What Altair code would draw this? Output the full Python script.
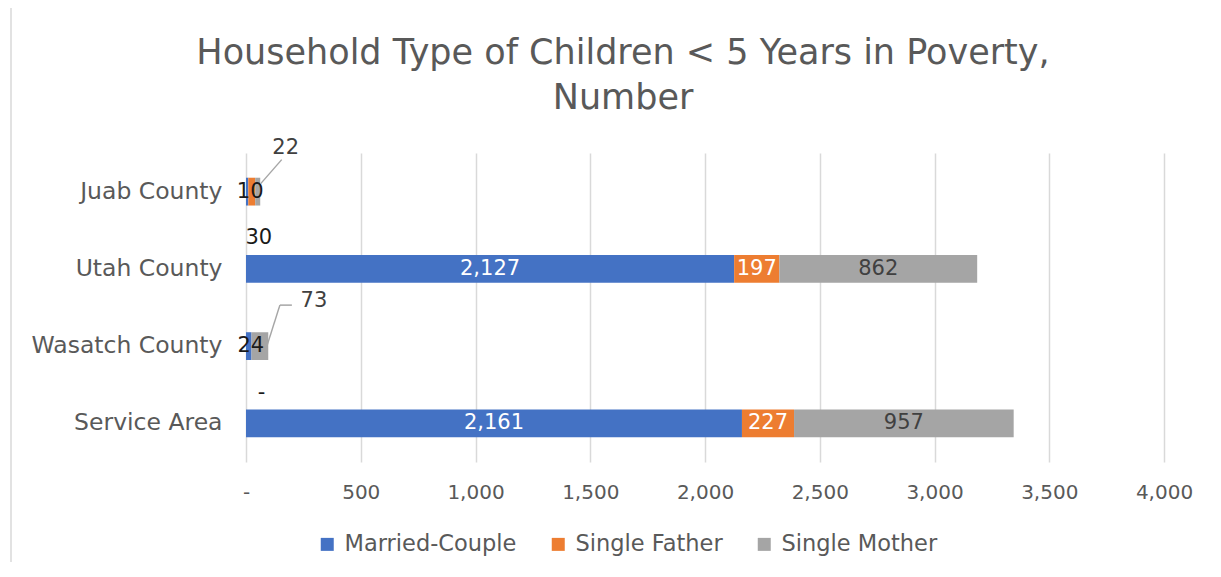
import altair as alt
import pandas as pd

counties = ["Juab County", "Utah County", "Wasatch County", "Service Area"]
types = ["Married-Couple", "Single Father", "Single Mother"]
married = [10, 2127, 24, 2161]
father = [30, 197, 0, 227]
mother = [22, 862, 73, 957]
colors = ["#4472C4", "#ED7D31", "#A5A5A5"]
x_ticks = [0, 500, 1000, 1500, 2000, 2500, 3000, 3500, 4000]
title_lines = ["Household Type of Children < 5 Years in Poverty,", "Number"]

FONT = "DejaVu Sans"
TXT = "#595959"

rows = []
for i, c in enumerate(counties):
    start = 0
    for t, vals in zip(types, [married, father, mother]):
        v = vals[i]
        rows.append(dict(county=c, type=t, value=v, start=start, end=start + v,
                         mid=start + v / 2,
                         label=("-" if v == 0 else f"{v:,}")))
        start += v
df = pd.DataFrame(rows)

base = alt.Chart(df)
xs = alt.Scale(domain=[0, 4000], nice=False, zero=True)
ys = alt.Scale(domain=counties, paddingInner=0.64, paddingOuter=0.32)

x_axis = alt.Axis(values=x_ticks, grid=True, gridColor="#d9d9d9", gridWidth=1.5,
                  domain=False, ticks=False, labelFontSize=20, labelColor=TXT,
                  labelFont=FONT, labelPadding=20, title=None, labelFlush=False,
                  labelExpr="datum.value == 0 ? '-' : format(datum.value, ',')")
y_axis = alt.Axis(domain=False, ticks=False, labelFontSize=23.5, labelColor=TXT,
                  labelFont=FONT, labelPadding=24, title=None, labelLimit=0)

bars = base.mark_bar().encode(
    y=alt.Y("county:N", scale=ys, axis=y_axis, sort=counties),
    x=alt.X("start:Q", scale=xs, axis=x_axis),
    x2="end:Q",
    color=alt.Color("type:N", scale=alt.Scale(domain=types, range=colors),
                    legend=alt.Legend(orient="none", legendX=70, legendY=380,
                                      direction="horizontal", title=None,
                                      symbolType="square", symbolSize=169,
                                      symbolStrokeWidth=0, labelFontSize=22.5,
                                      labelFont=FONT, labelColor=TXT, labelLimit=0,
                                      columnPadding=30, labelOffset=6)),
)

def enc(ch):
    return ch.encode(
        y=alt.Y("county:N", scale=ys, sort=counties),
        x=alt.X("mid:Q", scale=xs),
        text="label:N",
    )

LBL = 21
white_lbl = enc(base.mark_text(fontSize=LBL, font=FONT, color="white")).transform_filter(
    (alt.datum.value >= 100) & (alt.datum.type != "Single Mother"))
gray_lbl = enc(base.mark_text(fontSize=LBL, font=FONT, color="#404040")).transform_filter(
    (alt.datum.value >= 100) & (alt.datum.type == "Single Mother"))

def small(county, typ, dx, dy, color):
    return enc(base.mark_text(fontSize=LBL, font=FONT, color=color, dx=dx, dy=dy)).transform_filter(
        (alt.datum.county == county) & (alt.datum.type == typ))

smalls = [
    small("Juab County", "Married-Couple", 3, 0, "#1a1a1a"),
    small("Juab County", "Single Father", 7, 46, "#1a1a1a"),
    small("Juab County", "Single Mother", 28, -44, "#404040"),
    small("Wasatch County", "Married-Couple", 2, 0, "#1a1a1a"),
    small("Wasatch County", "Single Father", 10, 47, "#1a1a1a"),
    small("Wasatch County", "Single Mother", 54, -45, "#404040"),
]

def leader(county, typ, x0, y0, x1, y1):
    return base.mark_rule(color="#a6a6a6", strokeWidth=1.5, xOffset=x0, yOffset=y0,
                          x2Offset=x1, y2Offset=y1).encode(
        y=alt.Y("county:N", scale=ys, sort=counties),
        y2="county:N",
        x=alt.X("mid:Q", scale=xs),
        x2="mid:Q",
    ).transform_filter((alt.datum.county == county) & (alt.datum.type == typ))

leaders = [
    leader("Juab County", "Single Mother", 3, -8, 24, -32),
    leader("Wasatch County", "Single Mother", 7, 0, 20, -41),
    leader("Wasatch County", "Single Mother", 20, -41, 32, -41),
]

one = alt.Data(values=[{"k": 1}])
border = alt.Chart(one).mark_rect(fillOpacity=0, stroke="#d9d9d9", strokeWidth=1.5).encode(
    x=alt.value(-235), x2=alt.value(975), y=alt.value(-146), y2=alt.value(420))
t1 = alt.Chart(one).mark_text(fontSize=35, font=FONT, color=TXT, baseline="middle").encode(
    x=alt.value(377), y=alt.value(-100), text=alt.value(title_lines[0]))
t2 = alt.Chart(one).mark_text(fontSize=35, font=FONT, color=TXT, baseline="middle").encode(
    x=alt.value(377), y=alt.value(-55), text=alt.value(title_lines[1]))

chart = alt.layer(border, t1, t2, bars, white_lbl, gray_lbl, *smalls, *leaders).properties(
    width=918, height=309,
    autosize=alt.AutoSizeParams(type="none"),
    padding={"left": 238, "top": 145, "right": 40, "bottom": 100},
).configure_view(stroke=None)

chart.save("out.html", embed_options={"renderer": "svg", "actions": False})
